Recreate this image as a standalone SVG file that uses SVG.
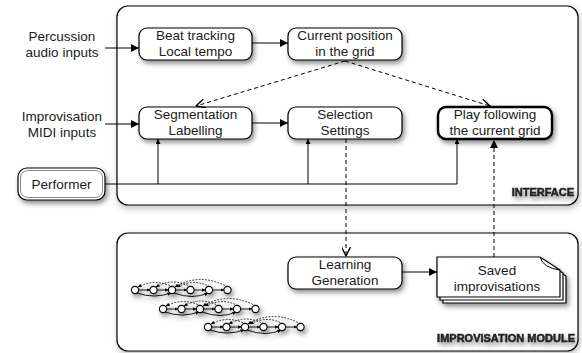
<svg xmlns="http://www.w3.org/2000/svg" xmlns:xlink="http://www.w3.org/1999/xlink" width="582" height="353" viewBox="0 0 582 353">
<style>
  .box{fill:#fff;stroke:#000;stroke-width:1.2}
  .cont{fill:#fff;stroke:#000;stroke-width:1.2}
  .t{font-family:"Liberation Sans",Arial,sans-serif;font-size:13.5px;fill:#1a1a1a;text-anchor:middle}
  .lbl{font-family:"Liberation Sans",Arial,sans-serif;font-size:11px;font-weight:bold;fill:#222;stroke:#222;stroke-width:0.5;text-anchor:end}
  .ln{fill:none;stroke:#000;stroke-width:1}
  .dash{fill:none;stroke:#000;stroke-width:1;stroke-dasharray:4,3}
  .c{fill:#fff;stroke:#000;stroke-width:1.1}
  .sl{fill:none;stroke:#000;stroke-width:0.9}
  .sd{fill:none;stroke:#000;stroke-width:0.8;stroke-dasharray:1.8,1.4}
</style>
<defs>
  <filter id="sh" x="-20%" y="-30%" width="150%" height="180%">
    <feDropShadow dx="2" dy="3" stdDeviation="2.5" flood-color="#000" flood-opacity="0.45"/>
  </filter>
  <filter id="shc" x="-5%" y="-5%" width="110%" height="115%">
    <feDropShadow dx="1" dy="3" stdDeviation="3" flood-color="#000" flood-opacity="0.25"/>
  </filter>
  <marker id="tri" viewBox="0 0 10 10" refX="10" refY="5" markerWidth="10" markerHeight="8" markerUnits="userSpaceOnUse" orient="auto">
    <path d="M0,0 L10,5 L0,10 Z" fill="#000"/>
  </marker>
  <marker id="trs" viewBox="0 0 10 10" refX="10" refY="5" markerWidth="6" markerHeight="5" markerUnits="userSpaceOnUse" orient="auto">
    <path d="M0,0 L10,5 L0,10 Z" fill="#000"/>
  </marker>
  <marker id="vee" viewBox="0 0 10 10" refX="10" refY="5" markerWidth="10" markerHeight="9" markerUnits="userSpaceOnUse" orient="auto">
    <path d="M0,0 L10,5 L0,10" fill="none" stroke="#000" stroke-width="1.5"/>
  </marker>
  <marker id="tiny" viewBox="0 0 10 10" refX="10" refY="5" markerWidth="3.5" markerHeight="3.5" markerUnits="userSpaceOnUse" orient="auto">
    <path d="M0,0 L10,5 L0,10 Z" fill="#000"/>
  </marker>
  <g id="chain">
    <path class="sd" d="M38,-3 Q20,-12 3,-3" marker-end="url(#tiny)"/>
    <path class="sd" d="M56,-3 Q38,-13 21,-3" marker-end="url(#tiny)"/>
    <path class="sd" d="M93,-3 Q65,-18 40,-3" marker-end="url(#tiny)"/>
    <path class="sd" d="M75,-3 Q60,-12 42,-3" marker-end="url(#tiny)"/>
    <path class="sl" d="M2,3 Q19,9 36,3" marker-end="url(#tiny)"/>
    <path class="sl" d="M39,3 Q58,10 73,3" marker-end="url(#tiny)"/>
    <line class="sl" x1="3.5" y1="0" x2="15" y2="0" marker-end="url(#tiny)"/>
    <line class="sl" x1="22" y1="0" x2="33.5" y2="0" marker-end="url(#tiny)"/>
    <line class="sl" x1="40.5" y1="0" x2="52" y2="0" marker-end="url(#tiny)"/>
    <line class="sl" x1="59" y1="0" x2="70.5" y2="0" marker-end="url(#tiny)"/>
    <line class="sl" x1="77.5" y1="0" x2="89" y2="0" marker-end="url(#tiny)"/>
    <circle class="c" cx="0" cy="0" r="3.6"/>
    <circle class="c" cx="18.5" cy="0" r="3.6"/>
    <circle class="c" cx="37" cy="0" r="3.6"/>
    <circle class="c" cx="55.5" cy="0" r="3.6"/>
    <circle class="c" cx="74" cy="0" r="3.6"/>
    <circle class="c" cx="92.5" cy="0" r="3.6"/>
  </g>
</defs>

<g id="interface">
  <rect class="cont" x="117" y="6" width="461" height="199" rx="11" filter="url(#shc)"/>
  <text class="lbl" x="574" y="196" filter="url(#sh)">INTERFACE</text>
</g>
<g id="improvisation-module">
  <rect class="cont" x="117" y="233" width="461" height="118" rx="11" filter="url(#shc)"/>
  <text class="lbl" x="575" y="342" filter="url(#sh)">IMPROVISATION MODULE</text>
</g>

<g id="percussion-inputs">
  <text class="t" x="62" y="41">Percussion</text>
  <text class="t" x="62" y="57">audio inputs</text>
</g>
<g id="midi-inputs">
  <text class="t" x="62" y="121">Improvisation</text>
  <text class="t" x="62" y="137">MIDI inputs</text>
</g>

<g id="beat-tracking">
  <rect class="box" x="139" y="28" width="113" height="32" rx="8" filter="url(#sh)"/>
  <text class="t" x="195.5" y="40">Beat tracking</text>
  <text class="t" x="195.5" y="56">Local tempo</text>
</g>
<g id="current-position">
  <rect class="box" x="288" y="28" width="114" height="32" rx="8" filter="url(#sh)"/>
  <text class="t" x="345" y="40">Current position</text>
  <text class="t" x="345" y="56">in the grid</text>
</g>
<g id="segmentation">
  <rect class="box" x="139" y="107" width="113" height="32" rx="8" filter="url(#sh)"/>
  <text class="t" x="195.5" y="119">Segmentation</text>
  <text class="t" x="195.5" y="135">Labelling</text>
</g>
<g id="selection">
  <rect class="box" x="288" y="107" width="114" height="32" rx="8" filter="url(#sh)"/>
  <text class="t" x="345" y="119">Selection</text>
  <text class="t" x="345" y="135">Settings</text>
</g>
<g id="play">
  <rect class="box" x="438" y="107" width="114" height="32" rx="8" style="stroke-width:2.4" filter="url(#sh)"/>
  <text class="t" x="495" y="119">Play following</text>
  <text class="t" x="495" y="135">the current grid</text>
</g>
<g id="performer">
  <rect class="box" x="18" y="168" width="87" height="32" rx="9" filter="url(#sh)"/>
  <rect x="20.5" y="170.5" width="82" height="27" rx="7" fill="none" stroke="#666" stroke-width="0.8"/>
  <text class="t" x="61.5" y="189">Performer</text>
</g>
<g id="learning">
  <rect class="box" x="288" y="257" width="114" height="32" rx="8" filter="url(#sh)"/>
  <text class="t" x="345" y="269">Learning</text>
  <text class="t" x="345" y="285">Generation</text>
</g>
<g id="saved">
  <g filter="url(#sh)">
    <path class="box" d="M443,263 H546 L566,276 V303 H443 Z"/>
    <path class="box" d="M440,260 H543 L563,273 V300 H440 Z"/>
    <path class="box" d="M437,257 H540 L560,270 V297 H437 Z"/>
  </g>
  <path class="ln" d="M540,257 Q543,268 560,270"/>
  <text class="t" x="497" y="275">Saved</text>
  <text class="t" x="497" y="291">improvisations</text>
</g>

<g id="oracles" filter="url(#sh)">
  <use xlink:href="#chain" x="135" y="290"/>
  <use xlink:href="#chain" x="163" y="309"/>
  <use xlink:href="#chain" x="208" y="327"/>
</g>

<g id="connectors">
  <line class="ln" x1="105" y1="48" x2="139" y2="48" marker-end="url(#tri)"/>
  <line class="ln" x1="105" y1="124" x2="139" y2="124" marker-end="url(#tri)"/>
  <line class="ln" x1="252" y1="43" x2="288" y2="43" marker-end="url(#tri)"/>
  <line class="ln" x1="252" y1="123" x2="288" y2="123" marker-end="url(#tri)"/>
  <line class="ln" x1="402" y1="272" x2="437" y2="272" marker-end="url(#tri)"/>
  <path class="ln" d="M105,184 H457"/>
  <line class="ln" x1="158" y1="184" x2="158" y2="139" marker-end="url(#trs)"/>
  <line class="ln" x1="308" y1="184" x2="308" y2="139" marker-end="url(#trs)"/>
  <line class="ln" x1="457" y1="184" x2="457" y2="139" marker-end="url(#trs)"/>
  <line class="dash" x1="345" y1="61" x2="196" y2="106" marker-end="url(#vee)"/>
  <line class="dash" x1="345" y1="61" x2="490" y2="106" marker-end="url(#vee)"/>
  <line class="dash" x1="346" y1="139" x2="346" y2="256" marker-end="url(#vee)"/>
  <line class="dash" x1="494" y1="257" x2="494" y2="140" marker-end="url(#tri)"/>
</g>
</svg>
